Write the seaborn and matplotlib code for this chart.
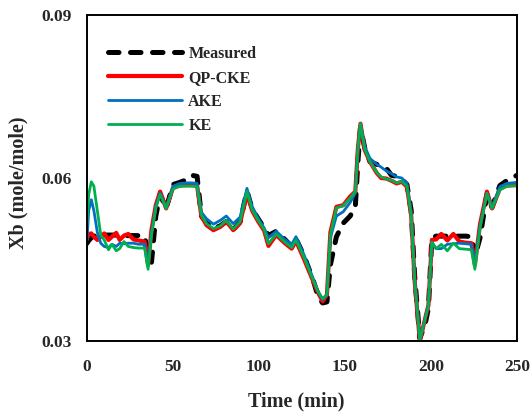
import numpy as np
import pandas as pd
import matplotlib
matplotlib.use("Agg")
import matplotlib.pyplot as plt
import seaborn as sns

time_min = [0, 1, 2.5, 4, 6, 8, 10, 12.5, 14.5, 17, 19, 21.5, 24, 27, 30, 33.5,
            35.5, 37.5, 40, 42.5, 46, 50, 54, 58, 61, 64, 66.5, 69.5, 73.5, 77.5,
            81, 85, 89, 93, 96, 99.5, 103, 105.5, 110, 115, 119, 121.5, 126, 131.5,
            134.5, 137, 139.5, 141.5, 145, 149, 153, 156, 157.5, 159, 161.5, 164.5,
            168.5, 171, 174, 177, 180, 183, 186, 188.5, 190.5, 193.5, 196.5, 198.5,
            200.5, 203, 206, 209.5, 213, 216.5, 220, 223.5, 225.5, 228.5, 232.5,
            235.5, 240, 244, 250]

measured = [0.0480, 0.0485, 0.0490, 0.0493, 0.0495, 0.0497, 0.0495, 0.0495, 0.0495, 0.0495,
            0.0495, 0.0494, 0.0494, 0.0494, 0.0494, 0.0493, 0.0460, 0.0445, 0.0530, 0.0570,
            0.0544, 0.0588, 0.0592, 0.0597, 0.0605, 0.0603, 0.0530, 0.0518, 0.0507, 0.0512,
            0.0520, 0.0505, 0.0519, 0.0576, 0.0543, 0.0525, 0.0508, 0.0494, 0.0502, 0.0487,
            0.0474, 0.0488, 0.0458, 0.0412, 0.0380, 0.0370, 0.0372, 0.0440, 0.0492, 0.0517,
            0.0530, 0.0547, 0.0630, 0.0693, 0.0655, 0.0630, 0.0625, 0.0622, 0.0618, 0.0605,
            0.0603, 0.0598, 0.0588, 0.0540, 0.0420, 0.0305, 0.0330, 0.0360, 0.0490, 0.0493,
            0.0493, 0.0493, 0.0493, 0.0493, 0.0493, 0.0492, 0.0455, 0.0490, 0.0570, 0.0546,
            0.0586, 0.0595, 0.0605]

qp_cke = [0.0488, 0.0497, 0.0498, 0.0492, 0.0486, 0.0492, 0.0498, 0.0486, 0.0492, 0.0499,
          0.0486, 0.0494, 0.0497, 0.0487, 0.0485, 0.0483, 0.0440, 0.0505, 0.0550, 0.0575,
          0.0544, 0.0582, 0.0586, 0.0587, 0.0587, 0.0586, 0.0530, 0.0513, 0.0504, 0.0510,
          0.0520, 0.0504, 0.0517, 0.0572, 0.0540, 0.0520, 0.0503, 0.0475, 0.0495, 0.0480,
          0.0470, 0.0484, 0.0452, 0.0410, 0.0388, 0.0373, 0.0385, 0.0500, 0.0547, 0.0550,
          0.0566, 0.0575, 0.0655, 0.0700, 0.0651, 0.0630, 0.0609, 0.0600, 0.0599, 0.0595,
          0.0590, 0.0593, 0.0584, 0.0530, 0.0410, 0.0300, 0.0340, 0.0366, 0.0486, 0.0487,
          0.0497, 0.0485, 0.0497, 0.0483, 0.0481, 0.0480, 0.0440, 0.0515, 0.0575, 0.0544,
          0.0580, 0.0586, 0.0587]

ake = [0.0485, 0.0540, 0.0560, 0.0540, 0.0500, 0.0480, 0.0474, 0.0472, 0.0478, 0.0474,
       0.0480, 0.0479, 0.0480, 0.0480, 0.0478, 0.0478, 0.0442, 0.0500, 0.0548, 0.0572,
       0.0545, 0.0585, 0.0590, 0.0591, 0.0591, 0.0590, 0.0537, 0.0525, 0.0515, 0.0522,
       0.0530, 0.0516, 0.0528, 0.0581, 0.0548, 0.0526, 0.0508, 0.0490, 0.0502, 0.0487,
       0.0478, 0.0492, 0.0460, 0.0415, 0.0390, 0.0376, 0.0385, 0.0490, 0.0530, 0.0538,
       0.0555, 0.0572, 0.0652, 0.0700, 0.0658, 0.0636, 0.0625, 0.0620, 0.0613, 0.0608,
       0.0602, 0.0600, 0.0590, 0.0535, 0.0415, 0.0302, 0.0340, 0.0366, 0.0482, 0.0470,
       0.0470, 0.0478, 0.0479, 0.0480, 0.0479, 0.0478, 0.0442, 0.0512, 0.0572, 0.0546,
       0.0584, 0.0590, 0.0592]

ke = [0.0515, 0.0570, 0.0593, 0.0585, 0.0540, 0.0495, 0.0486, 0.0468, 0.0478, 0.0466,
      0.0470, 0.0483, 0.0474, 0.0472, 0.0471, 0.0471, 0.0432, 0.0495, 0.0545, 0.0570,
      0.0544, 0.0580, 0.0585, 0.0585, 0.0585, 0.0584, 0.0532, 0.0516, 0.0507, 0.0512,
      0.0522, 0.0506, 0.0520, 0.0575, 0.0542, 0.0522, 0.0505, 0.0479, 0.0497, 0.0482,
      0.0472, 0.0486, 0.0455, 0.0412, 0.0390, 0.0378, 0.0385, 0.0495, 0.0545, 0.0549,
      0.0563, 0.0575, 0.0655, 0.0700, 0.0652, 0.0630, 0.0610, 0.0602, 0.0598, 0.0596,
      0.0591, 0.0594, 0.0585, 0.0530, 0.0410, 0.0302, 0.0340, 0.0366, 0.0482, 0.0470,
      0.0478, 0.0466, 0.0480, 0.0470, 0.0469, 0.0468, 0.0432, 0.0508, 0.0572, 0.0544,
      0.0578, 0.0585, 0.0586]

series_names = ["Measured", "QP-CKE", "AKE", "KE"]
x_ticks = [0, 50, 100, 150, 200, 250]
y_ticks = [0.03, 0.06, 0.09]

sns.set_style("white")
plt.rcParams["font.family"] = ["Liberation Serif", "DejaVu Serif"]
plt.rcParams["font.weight"] = "bold"

fig = plt.figure(figsize=(5.31, 4.16), dpi=100)
ax = fig.add_axes([87 / 531, 75 / 416, 430 / 531, 326 / 416])

data = {"Measured": measured, "QP-CKE": qp_cke, "AKE": ake, "KE": ke}
styles = {
    "Measured": dict(color="black", lw=3.6),
    "QP-CKE": dict(color="#FF0000", lw=3.0),
    "AKE": dict(color="#0070C0", lw=2.0),
    "KE": dict(color="#00B050", lw=2.0),
}
handles = []
for name in series_names:
    df = pd.DataFrame({"Time": time_min, "Xb": data[name]})
    sns.lineplot(data=df, x="Time", y="Xb", ax=ax, color=styles[name]["color"],
                 linewidth=styles[name]["lw"], errorbar=None, sort=False, label=name,
                 legend=False)
    line = ax.lines[-1]
    line.set_solid_joinstyle("round")
    if name == "Measured":
        line.set_dashes((2.1, 2.3))
        line.set_dash_capstyle("round")
    handles.append(line)

ax.set_xlim(0, 250)
ax.set_ylim(0.03, 0.09)
ax.set_xticks(x_ticks)
ax.set_yticks(y_ticks)
ax.set_xticklabels([str(v) for v in x_ticks])
ax.set_yticklabels([f"{v:.2f}" for v in y_ticks])
ax.tick_params(axis="both", length=0, labelsize=12.5)
ax.tick_params(axis="x", pad=13)
ax.tick_params(axis="y", pad=11)
for lab in ax.get_xticklabels() + ax.get_yticklabels():
    lab.set_fontweight("bold")

for sp in ax.spines.values():
    sp.set_visible(True)
    sp.set_color("black")
    sp.set_linewidth(1.4)

ax.set_xlabel("Time (min)", fontsize=14.5, fontweight="bold")
ax.set_ylabel("Xb (mole/mole)", fontsize=14.5, fontweight="bold")
ax.xaxis.set_label_coords(0.486, -0.155)
ax.yaxis.set_label_coords(-0.135, 0.485)

leg = ax.legend(handles=handles, labels=series_names, loc="upper left",
                bbox_to_anchor=(0.035, 0.925), borderaxespad=0, frameon=False,
                handlelength=4.6, handletextpad=0.4, labelspacing=0.5,
                prop={"size": 11.5, "weight": "bold"})

fig.savefig("out.png", dpi=100)
